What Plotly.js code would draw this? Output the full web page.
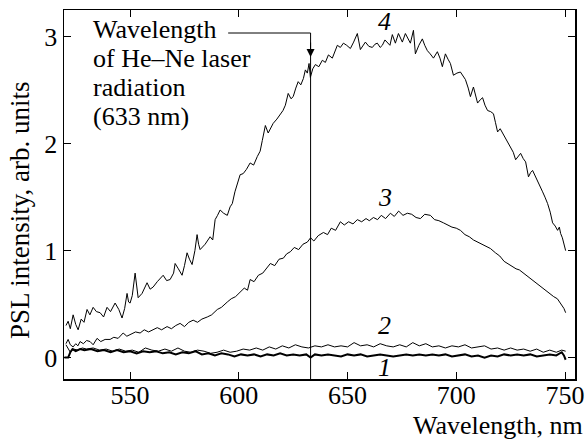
<!DOCTYPE html>
<html>
<head>
<meta charset="utf-8">
<script src="https://cdn.plot.ly/plotly-3.0.1.min.js"></script>
<style>html,body{margin:0;padding:0;background:#fff;}#chart{width:587px;height:441px;}</style>
</head>
<body>
<div id="chart"></div>
<script>
// Curve 4
const x4 = [520.5,521.5,522.5,523.8,525.0,526.1,527.5,528.8,530.2,531.5,533.0,534.5,536.2,537.8,539.4,541.0,543.1,544.8,546.3,547.5,548.6,549.3,550.0,551.0,552.3,553.0,553.7,555.5,557.8,559.2,560.6,562.5,565.2,566.8,568.4,570.0,570.7,572.2,573.9,575.0,576.2,577.3,578.5,579.8,580.8,581.5,582.2,584.5,586.8,588.0,589.1,590.2,591.4,593.0,594.7,596.0,597.0,598.2,599.3,600.6,602.0,603.5,605.2,606.8,608.5,609.8,610.8,612.2,613.5,614.6,615.8,617.5,619.1,620.3,621.4,622.7,624.0,625.0,626.2,627.3,628.5,629.7,630.6,631.5,632.3,632.9,634.0,635.2,636.8,638.4,639.8,641.2,643.0,644.2,645.3,646.7,648.1,649.6,651.3,652.8,654.5,655.9,657.0,658.2,659.8,661.4,662.6,663.7,665.0,666.0,667.2,668.3,669.5,670.6,672.0,673.4,674.3,675.2,676.6,677.8,678.9,680.3,681.2,682.8,684.4,685.5,686.7,688.0,689.5,691.3,692.5,693.6,695.0,696.2,697.3,698.7,700.3,701.9,703.0,704.2,705.5,706.5,707.9,708.8,709.8,711.0,712.1,713.2,714.4,715.8,717.1,718.0,719.0,720.2,721.3,722.5,723.6,725.0,726.2,727.3,728.5,729.6,730.8,731.9,733.2,734.2,735.1,736.3,737.4,738.6,739.7,740.8,742.0,743.2,744.3,745.5,746.6,747.4,748.0,748.8,749.4,750.3];
const y4 = [0.30,0.34,0.27,0.40,0.31,0.26,0.36,0.33,0.45,0.40,0.47,0.43,0.42,0.38,0.47,0.43,0.51,0.45,0.37,0.46,0.60,0.52,0.51,0.58,0.79,0.65,0.56,0.60,0.70,0.64,0.66,0.71,0.77,0.72,0.73,0.79,0.88,0.83,0.77,0.86,0.98,0.92,0.87,1.00,1.15,1.06,1.01,1.06,1.13,1.10,1.29,1.33,1.38,1.35,1.33,1.41,1.44,1.55,1.63,1.71,1.72,1.76,1.82,1.80,1.88,1.93,2.03,2.17,2.10,2.14,2.19,2.23,2.28,2.31,2.36,2.47,2.42,2.44,2.52,2.58,2.55,2.61,2.69,2.66,2.75,2.62,2.70,2.74,2.72,2.78,2.76,2.83,2.80,2.86,2.92,2.90,2.94,2.92,2.89,2.95,3.03,2.88,2.92,2.95,2.91,2.90,2.93,2.94,2.90,2.92,2.97,2.95,2.92,3.02,2.94,3.03,2.98,2.95,3.03,2.99,2.94,3.06,2.84,2.92,2.98,2.92,2.87,2.84,2.80,2.86,2.80,2.72,2.84,2.79,2.75,2.64,2.66,2.67,2.63,2.60,2.52,2.44,2.53,2.45,2.38,2.41,2.43,2.36,2.31,2.30,2.28,2.20,2.11,2.14,2.10,2.06,2.02,1.97,1.92,1.85,1.88,1.91,1.86,1.83,1.69,1.73,1.75,1.70,1.66,1.61,1.55,1.50,1.44,1.36,1.26,1.23,1.19,1.22,1.16,1.12,1.08,1.00];

// Curve 3
const x3 = [520.5,521.5,522.5,523.8,525.0,526.0,527.0,528.5,530.0,531.6,533.0,534.8,536.5,538.5,540.8,542.5,544.5,546.8,548.5,550.5,552.5,554.6,556.5,558.5,560.6,562.5,564.5,567.0,569.0,571.0,573.0,575.0,577.0,579.0,581.0,583.0,585.5,587.5,590.1,592.0,594.7,596.5,598.5,600.6,602.5,604.0,605.2,607.0,609.0,611.0,612.8,614.5,616.5,618.5,620.5,622.0,623.7,625.5,627.5,629.5,631.5,633.0,634.5,636.5,638.9,640.8,642.5,644.5,646.7,648.5,650.5,652.5,654.5,656.5,658.5,660.0,661.9,663.8,665.5,667.5,669.7,671.5,673.5,675.5,677.5,679.5,681.5,683.5,685.5,688.1,690.0,692.0,694.1,696.0,698.0,700.0,701.9,704.0,706.0,707.9,710.0,712.0,714.0,715.7,718.0,720.0,722.0,723.6,725.5,727.5,729.0,730.9,733.0,735.0,737.0,738.8,740.5,742.5,744.8,746.5,748.0,749.5,750.3];
const y3 = [0.13,0.17,0.12,0.10,0.13,0.11,0.15,0.13,0.16,0.15,0.12,0.18,0.15,0.17,0.17,0.19,0.18,0.23,0.20,0.22,0.24,0.23,0.26,0.24,0.26,0.28,0.26,0.29,0.27,0.30,0.32,0.29,0.33,0.35,0.33,0.36,0.38,0.40,0.45,0.47,0.52,0.55,0.57,0.61,0.65,0.63,0.73,0.71,0.77,0.79,0.84,0.88,0.86,0.92,0.93,0.97,0.99,1.03,1.01,1.06,1.08,1.12,1.09,1.14,1.17,1.15,1.21,1.19,1.27,1.24,1.27,1.25,1.29,1.27,1.30,1.28,1.31,1.29,1.33,1.30,1.35,1.32,1.37,1.33,1.35,1.34,1.31,1.30,1.34,1.33,1.29,1.28,1.26,1.24,1.22,1.21,1.19,1.15,1.13,1.10,1.08,1.06,1.04,1.02,0.98,0.95,0.90,0.88,0.86,0.83,0.82,0.79,0.76,0.72,0.69,0.66,0.64,0.61,0.57,0.55,0.51,0.46,0.42];

// Curve 2
const x2 = [520.5,521.5,522.5,524.0,526.0,528.0,530.0,533.0,536.0,539.0,542.0,545.0,548.0,551.0,554.0,557.0,560.0,563.0,566.0,569.0,572.0,575.0,578.0,581.0,584.0,587.0,590.0,593.0,596.0,599.0,602.0,605.0,608.0,611.0,614.0,617.0,620.0,623.0,626.0,629.0,632.0,635.0,638.0,641.0,644.0,647.0,650.0,653.0,656.0,659.0,662.0,665.0,668.0,671.0,674.0,677.0,680.0,683.0,686.0,689.0,692.0,695.0,698.0,701.0,704.0,707.0,710.0,713.0,716.0,719.0,722.0,725.0,728.0,731.0,734.0,737.0,740.0,743.0,746.0,748.5,750.3];
const y2 = [0.12,0.08,0.05,0.08,0.07,0.09,0.08,0.09,0.07,0.08,0.06,0.08,0.06,0.07,0.05,0.09,0.07,0.06,0.08,0.06,0.09,0.06,0.05,0.07,0.06,0.04,0.05,0.07,0.05,0.06,0.08,0.07,0.09,0.07,0.10,0.08,0.11,0.09,0.12,0.10,0.09,0.11,0.10,0.12,0.10,0.11,0.10,0.14,0.11,0.12,0.10,0.13,0.11,0.10,0.12,0.10,0.14,0.11,0.13,0.10,0.11,0.09,0.11,0.10,0.12,0.09,0.10,0.11,0.08,0.09,0.07,0.09,0.07,0.08,0.06,0.08,0.05,0.07,0.05,0.07,0.06];

// Curve 1
const x1 = [519.8,521.5,522.5,523.5,525.0,527.0,529.0,532.0,535.0,538.0,541.0,544.0,547.0,550.0,553.0,556.0,559.0,562.0,565.0,568.0,571.0,574.0,577.0,580.0,583.0,586.0,589.0,592.0,595.0,598.0,601.0,604.0,607.0,610.0,613.0,616.0,619.0,622.0,625.0,628.0,631.0,633.0,635.0,638.0,641.0,644.0,647.0,650.0,653.0,656.0,659.0,662.0,665.0,668.0,671.0,674.0,677.0,680.0,683.0,686.0,689.0,692.0,695.0,698.0,701.0,704.0,707.0,710.0,713.0,716.0,719.0,722.0,725.0,728.0,731.0,734.0,737.0,740.0,743.0,746.0,748.5,749.5,750.3];
const y1 = [0.00,0.00,0.05,0.08,0.06,0.08,0.07,0.08,0.06,0.07,0.05,0.07,0.05,0.06,0.04,0.06,0.05,0.06,0.04,0.05,0.03,0.05,0.04,0.06,0.03,0.04,0.02,0.04,0.03,0.01,0.03,0.02,0.03,0.01,0.03,0.02,0.04,0.02,0.03,0.02,0.03,0.00,0.03,0.02,0.03,0.02,0.01,0.03,0.02,0.03,0.01,0.02,0.03,0.02,0.01,0.02,0.03,0.02,0.03,0.02,0.03,0.02,0.03,0.01,0.02,0.03,0.01,0.02,0.00,0.02,0.01,0.03,0.02,0.03,0.02,0.03,0.01,0.02,0.03,0.02,0.05,0.02,-0.02];

const xTicks = [550, 600, 650, 700, 750];
const yTicks = [0, 1, 2, 3];
const curveLabels = ["1", "2", "3", "4"];
const laserWavelength = 633;
const noteLines = ["Wavelength", "of He–Ne laser", "radiation", "(633 nm)"];

const FONT = '"Liberation Serif", "Times New Roman", Times, serif';
const FS = 26;
const L = 64, R = 12, T = 10, B = 62, W = 587, H = 441;
const PH = H - T - B;
const py = p => (H - B - p) / PH; // pixel y -> paper y
const pxp = p => (p - L) / (W - L - R); // pixel x -> paper x

const line = (x, y, w) => ({x: x, y: y, type: 'scatter', mode: 'lines', line: {color: '#000', width: w}, hoverinfo: 'skip', showlegend: false});

const data = [line(x4, y4, 1), line(x3, y3, 1), line(x2, y2, 1), line(x1, y1, 2)];

const annotations = [];
const labPos = [[667, -0.09], [667, 0.30], [667, 1.50], [667, 3.14]];
curveLabels.forEach((t, i) => annotations.push({
  x: labPos[i][0], y: labPos[i][1], xref: 'x', yref: 'y', text: t, showarrow: false,
  font: {family: FONT, size: FS, color: '#000', style: 'italic'}
}));
// multi-line note: base size sets the line pitch (1.3 em), glyphs drawn at 26px
annotations.push({
  x: pxp(91), y: py(13), xref: 'paper', yref: 'paper', showarrow: false,
  text: noteLines.map(t => '<span style="font-size:' + FS + 'px">' + t + '</span>').join('<br>'),
  xanchor: 'left', yanchor: 'top', align: 'left', font: {family: FONT, size: 22.4, color: '#000'}
});
annotations.push({x: laserWavelength, y: 2.81, xref: 'x', yref: 'y', ax: 0, ay: -16, axref: 'pixel', ayref: 'pixel',
  showarrow: true, arrowhead: 2, arrowsize: 1.6, arrowwidth: 1, arrowcolor: '#000', text: ''});
annotations.push({x: pxp(585), y: py(425), xref: 'paper', yref: 'paper', text: 'Wavelength, nm', showarrow: false,
  xanchor: 'right', yanchor: 'middle', font: {family: FONT, size: FS, color: '#000'}});
annotations.push({x: pxp(20), y: py(210), xref: 'paper', yref: 'paper', text: 'PSL intensity, arb. units', showarrow: false,
  textangle: -90, xanchor: 'center', yanchor: 'middle', font: {family: FONT, size: 27, color: '#000'}});

const shapes = [
  {type: 'line', xref: 'x', yref: 'y', x0: 595.1, x1: laserWavelength, y0: 3.035, y1: 3.035, line: {color: '#000', width: 1}},
  {type: 'line', xref: 'x', yref: 'y', x0: laserWavelength, x1: laserWavelength, y0: 3.035, y1: -0.2, line: {color: '#000', width: 1}}
];

const axisCommon = {showgrid: false, zeroline: false, showline: true, linecolor: '#000', linewidth: 1.5, mirror: 'ticks',
  ticks: 'inside', ticklen: 7, tickwidth: 1, tickcolor: '#000', tickmode: 'array',
  tickfont: {family: FONT, size: FS, color: '#000'}};

const layout = {
  width: W, height: H,
  font: {family: FONT, size: FS, color: '#000'},
  margin: {l: L, r: R, t: T, b: B, pad: 0},
  paper_bgcolor: '#fff', plot_bgcolor: '#fff',
  xaxis: Object.assign({}, axisCommon, {range: [519.6, 754.6], tickvals: xTicks, ticktext: xTicks.map(String), ticklabelstandoff: -8}),
  yaxis: Object.assign({}, axisCommon, {range: [-0.2, 3.25], tickvals: yTicks, ticktext: yTicks.map(String)}),
  annotations: annotations, shapes: shapes, showlegend: false
};

Plotly.newPlot('chart', data, layout, {staticPlot: true, displayModeBar: false});
</script>
</body>
</html>
